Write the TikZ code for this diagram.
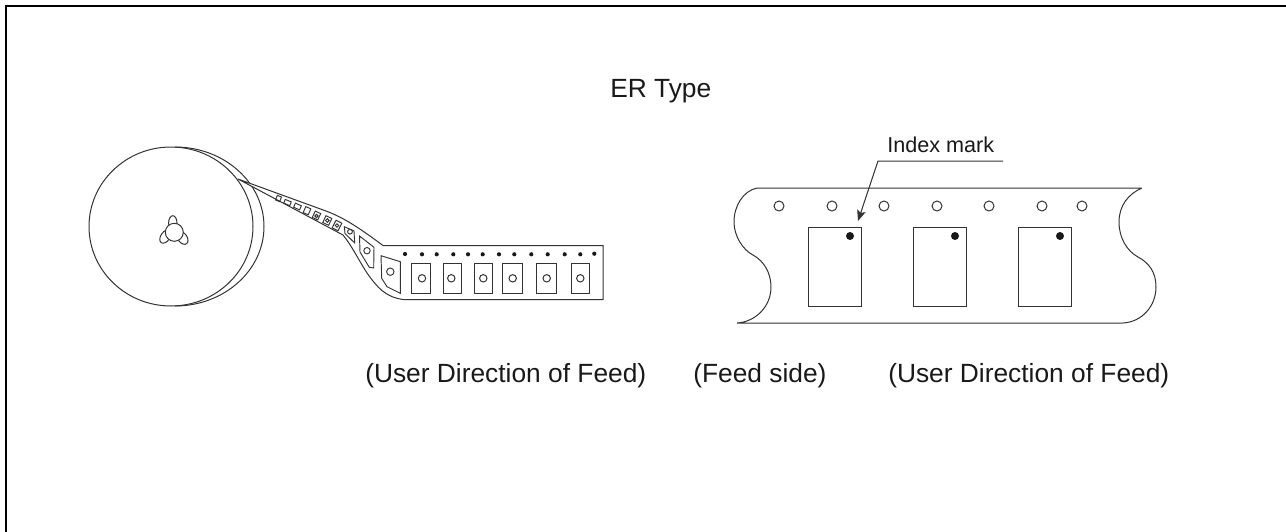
\documentclass[tikz,border=0pt]{standalone}
\usepackage{fontspec}
\setmainfont{Liberation Sans}
\usetikzlibrary{arrows.meta}
\tikzset{
  frameline/.style={line width=1.5pt,black},
  ln/.style={line width=0.75pt,draw=black!80},
  bigtext/.style={font=\fontsize{19.75}{22}\selectfont,anchor=base west,inner sep=0pt,text=black!90},
  smalltext/.style={font=\fontsize{16.2}{19}\selectfont,anchor=base west,inner sep=0pt,text=black!90},
  blackdot/.style={fill=black!90,draw=none},
  smallln/.style={line width=0.7pt,draw=black!80}
}
\newcommand{\pk}[5]{\draw[smallln,shift={(#1,#2)},rotate=#5] (-#3/2,-#4/2) rectangle (#3/2,#4/2);}
\begin{document}
\begin{tikzpicture}[x=0.75pt,y=-0.75pt]
\useasboundingbox (0,0) rectangle (1286,532);
% frame
\draw[frameline] (6,532) -- (6,6) -- (1286,6);
% reel
\draw[ln] (175,147) arc[start angle=-90,end angle=90,x radius=89,y radius=79.5];
\draw[ln] (171,226.5) ellipse[x radius=82,y radius=79.5];
% hub
\draw[ln] (172.8,223) ellipse[x radius=4.2,y radius=7.3];
\draw[ln,rotate around={55:(165.5,236.5)}] (165.5,236.5) ellipse[x radius=7.5,y radius=4.6];
\draw[ln,rotate around={-55:(182.5,238)}] (182.5,238) ellipse[x radius=7,y radius=4.6];
\draw[ln,fill=white] (174.3,232.3) circle[radius=9];
% feeding tape
\coordinate (ts) at (238,179);
\draw[ln,fill=white] (ts) -- (326,211) .. controls (345,218) and (362,230) .. (383,245.5)
  -- (603,245.5) -- (603,299.5) -- (403,299.5)
  .. controls (385,297) and (377,287) .. (367,273)
  .. controls (358,259) and (352,246) .. (343,235) -- cycle;
% small pockets along the tape
\pk{278.5}{198.5}{4.5}{5}{-22}
\pk{287.5}{202.5}{6.5}{4}{-22}
\pk{297.5}{206.5}{6.5}{4.5}{-24}
\pk{307}{210.7}{5.5}{6.5}{-24}
\pk{316.5}{215.5}{6}{7}{-25}
\pk{327.3}{220.5}{6.5}{7.5}{-25}
\pk{337}{225.5}{6.5}{8.5}{-27}
\draw[smallln] (316.5,216) circle[radius=1.6];
\draw[smallln] (327.3,220.5) circle[radius=1.8];
\draw[smallln] (337,225.5) circle[radius=1.8];
\draw[smallln] (344.3,226.7) -- (354,231) -- (354.7,243) -- (345,233.5) -- cycle;
\draw[smallln] (350,231.7) circle[radius=2.4];
\draw[smallln] (359.5,236) -- (374,247.3) -- (373.7,268) -- (369.3,267.3) -- (360,252) -- cycle;
\draw[smallln] (367,250.7) circle[radius=3.2];
\draw[smallln] (381,255.7) -- (400.3,261.7) -- (400.3,293.3) -- (387,286.7) -- (381.7,278.3) -- cycle;
\draw[smallln] (390.3,271.7) circle[radius=3.7];
% right pockets and holes of feeding tape
\foreach \l/\r/\c in {411.7/430.3/422,443/461.7/451.3,474.3/492.7/483.3,502.3/522.3/512.7,536.7/556.7/546.7,571.3/589.7/580.3}{
  \draw[ln] (\l,263.3) rectangle (\r,293.3);
  \draw[ln] (\c,278.3) circle[radius=3.7];
}
\foreach \x/\y in {405/254,422/254.3,436.7/254.3,453.3/254.3,468/254.3,482.7/254.3,499/254.3,514.3/254.3,531.3/254.3,547.7/254.3,564.7/254.3,580.3/254.3,594.3/253.7}{
  \fill[blackdot] (\x,\y) circle[radius=2.1];
}
% right tape
\draw[ln] (1142,188) -- (757,188)
  .. controls (743,191) and (734,206) .. (734,222)
  .. controls (734,236) and (743,250) .. (753,255)
  .. controls (764,261) and (771,273) .. (771,287)
  .. controls (771,307) and (755,322) .. (737,323)
  -- (1123,323)
  .. controls (1142,322) and (1156,306) .. (1156,287)
  .. controls (1156,272) and (1149,263) .. (1138,257)
  .. controls (1127,251) and (1119,238) .. (1119,222)
  .. controls (1119,206) and (1128,194) .. (1142,188);
\foreach \x in {779,832,884,937,989,1042,1082}{
  \draw[ln] (\x,206) circle[radius=5];
}
\foreach \l/\r/\d in {808/861/850,913/966/955,1018/1071/1060}{
  \draw[ln] (\l,227) rectangle (\r,306);
  \fill[blackdot] (\d,236) circle[radius=4];
}
% texts
\node[bigtext] (title) at (610,97) {ER Type};
\node[smalltext] (idx) at (887,152) {Index mark};
\node[bigtext] (ua) at (365,382) {(User Direction of Feed)};
\node[bigtext] (fs) at (693,382) {(Feed side)};
\node[bigtext] (ub) at (888,382) {(User Direction of Feed)};
% leader
\coordinate (la) at (1003,161);
\coordinate (lb) at (878,161);
\coordinate (lc) at (858,221);
\draw[ln,-{Stealth[length=8pt,width=6.5pt,inset=1.5pt]}] (la) -- (lb) -- (lc);
\end{tikzpicture}
\end{document}
